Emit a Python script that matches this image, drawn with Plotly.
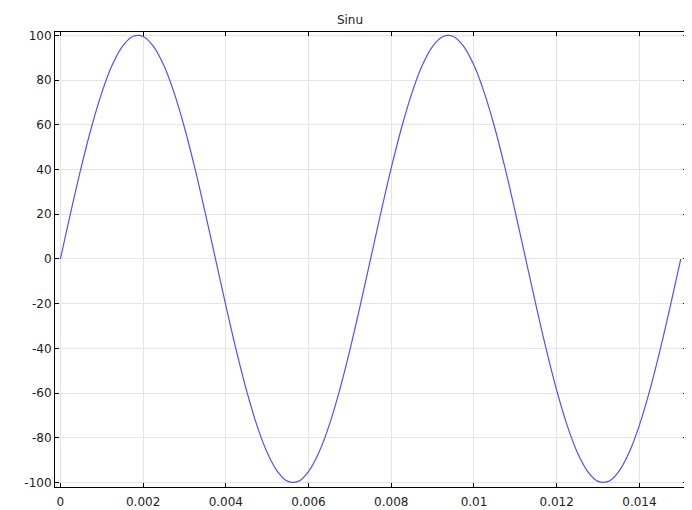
import plotly.graph_objects as go

# Time samples (s) and read-off signal values
t = [i * 0.00025 for i in range(61)]
half_up = [0, 20.8, 40.7, 58.8, 74.3, 86.6, 95.1, 99.5, 99.5, 95.1, 86.6, 74.3, 58.8, 40.7, 20.8]
half_down = [0, -20.8, -40.7, -58.8, -74.3, -86.6, -95.1, -99.5, -99.5, -95.1, -86.6, -74.3, -58.8, -40.7, -20.8]
y = half_up + half_down + half_up + half_down + [0]

x_ticks = [0, 0.002, 0.004, 0.006, 0.008, 0.01, 0.012, 0.014]
x_labels = ["0", "0.002", "0.004", "0.006", "0.008", "0.01", "0.012", "0.014"]
y_ticks = [-100, -80, -60, -40, -20, 0, 20, 40, 60, 80, 100]
y_labels = ["-100", "-80", "-60", "-40", "-20", "0", "20", "40", "60", "80", "100"]

fig = go.Figure()
fig.add_trace(go.Scatter(x=t, y=y, mode="lines",
                         line=dict(color="rgb(80,80,255)", width=1.2, shape="spline", smoothing=1.0),
                         showlegend=False, hoverinfo="skip"))

axis_common = dict(showline=True, linecolor="black", linewidth=1, mirror="ticks",
                   ticks="inside", ticklen=4, tickcolor="black", tickwidth=1,
                   showgrid=True, gridcolor="#e5e5e5", gridwidth=1, zeroline=False,
                   automargin=False,
                   tickfont=dict(family="DejaVu Sans", size=12, color="#222"))

# page body has an 8px margin, so the figure is sized to fit the 692x510 window
fig.update_layout(
    width=684, height=502,
    margin=dict(l=47, r=5, t=24, b=23),
    paper_bgcolor="white", plot_bgcolor="white",
    title=dict(text="Sinu", x=0.5, xanchor="center", y=1 - 12 / 502, yanchor="middle",
               font=dict(family="DejaVu Sans", size=12, color="#222")),
    xaxis=dict(range=[-0.00013, 0.01515], tickvals=x_ticks, ticktext=x_labels,
               ticklabelstandoff=4, **axis_common),
    yaxis=dict(range=[-102, 101.5], tickvals=y_ticks, ticktext=y_labels, **axis_common),
)

fig.write_html("out.html")
